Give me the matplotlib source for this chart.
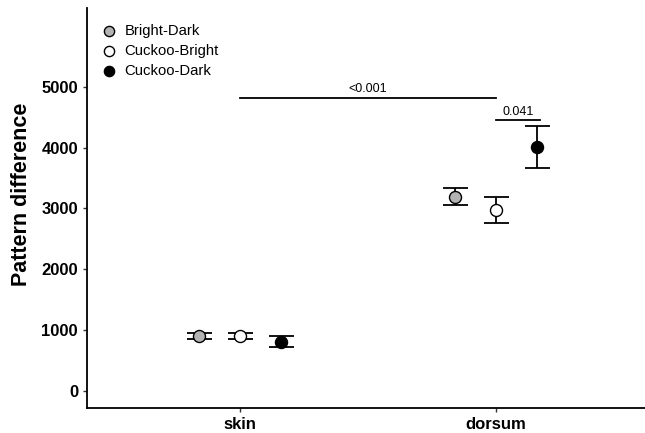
import matplotlib
matplotlib.use("Agg")
import matplotlib.pyplot as plt
import numpy as np

plt.rcParams['font.family'] = ['Liberation Sans', 'DejaVu Sans']

regions = ["skin", "dorsum"]
groups = ["Bright-Dark", "Cuckoo-Bright", "Cuckoo-Dark"]
colors = ["#b3b3b3", "white", "black"]

means = {
    "Bright-Dark": [905, 3190],
    "Cuckoo-Bright": [900, 2970],
    "Cuckoo-Dark": [810, 4010],
}
errs = {
    "Bright-Dark": [45, 140],
    "Cuckoo-Bright": [45, 215],
    "Cuckoo-Dark": [85, 340],
}

yticks = [0, 1000, 2000, 3000, 4000, 5000]

fig = plt.figure(figsize=(6.45, 4.33), dpi=100)
ax = fig.add_axes([0.135, 0.058, 0.865, 0.924])

xpos = np.arange(1, len(regions) + 1)
dodge = 0.16
for i, g in enumerate(groups):
    x = xpos + (i - 1) * dodge
    ax.errorbar(x, means[g], yerr=errs[g], fmt="none", ecolor="black",
                elinewidth=1.3, capsize=9, capthick=1.3, zorder=2)
    ax.scatter(x, means[g], s=75, facecolor=colors[i], edgecolor="black",
               linewidth=1.0, zorder=3, label=g)

# significance brackets
ax.plot([1, 2], [4820, 4820], color="black", lw=1.3)
ax.text(1.5, 4860, "<0.001", ha="center", va="bottom", fontsize=9)
ax.plot([2, 2.17], [4455, 4455], color="black", lw=1.3)
ax.text(2.085, 4495, "0.041", ha="center", va="bottom", fontsize=9)

ax.set_xlim(0.405, 2.58)
ax.set_ylim(-280, 6300)
ax.set_xticks(xpos)
ax.set_xticklabels(regions, fontsize=12, fontweight="bold")
ax.set_yticks(yticks)
ax.set_yticklabels([str(v) for v in yticks], fontsize=12, fontweight="bold")
ax.set_ylabel("Pattern difference", fontsize=15.5, fontweight="bold")
ax.yaxis.set_label_coords(-0.098, 0.535)

for s in ["top", "right"]:
    ax.spines[s].set_visible(False)
for s in ["left", "bottom"]:
    ax.spines[s].set_linewidth(1.3)
ax.tick_params(length=3, width=1.0, color="#333333")

ax.legend(loc="upper left", bbox_to_anchor=(-0.014, 0.997), frameon=False,
          fontsize=10.7, handletextpad=0.05, labelspacing=0.42, borderaxespad=0.6,
          markerscale=0.85)

fig.savefig("out.png", dpi=100)
